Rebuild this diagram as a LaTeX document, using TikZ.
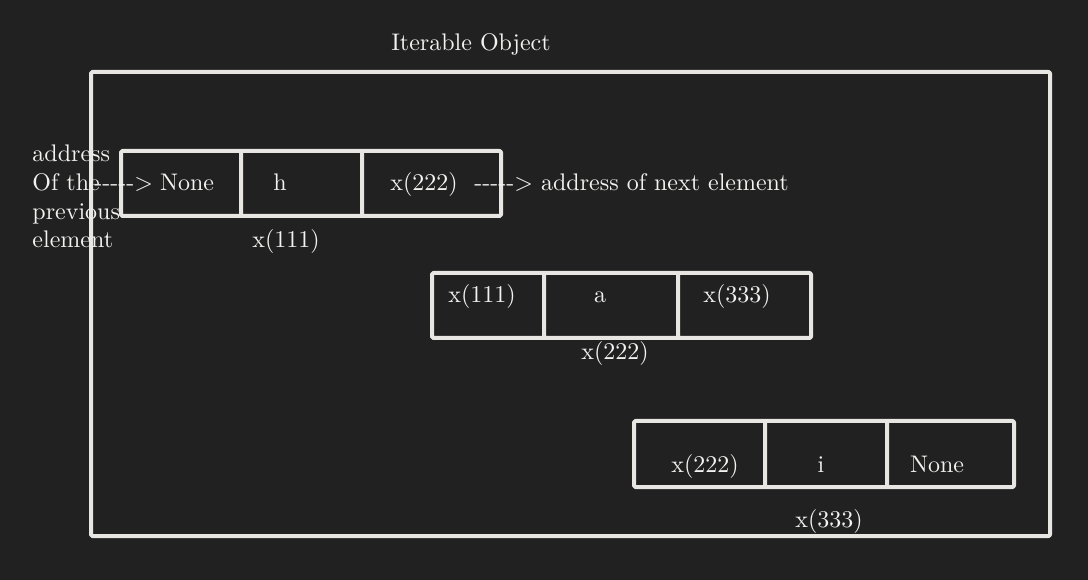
\documentclass[tikz,border=0pt]{standalone}
\usepackage{fontspec}
\usepackage{tikz}

\definecolor{bgdark}{RGB}{33,33,33}
\definecolor{chalk}{RGB}{232,230,227}
\definecolor{inkwhite}{RGB}{242,242,240}

\begin{document}
\begin{tikzpicture}[x=0.75pt,y=0.75pt,yscale=-1,xscale=1,
    cellbox/.style={draw=chalk,line width=3,rounded corners=1,line join=round},
    lbl/.style={text=inkwhite,inner sep=0,anchor=base,scale=1.8,font=\fontsize{10}{12}\selectfont}]
%Background
\fill[bgdark] (0,0) rectangle (1088,580);
%Shape: Rectangle [id:outer]
\draw[cellbox] (91,72) rectangle (1050,536);
\node[lbl] (title) at (471,51) {Iterable Object};

%Shape: Rectangle [id:nodeh]
\draw[cellbox] (121,151) rectangle (501,216) (241,151) -- (241,216) (362,151) -- (362,216);
\node[lbl,anchor=base west] (addrA) at (32,162) {address};
\node[lbl,anchor=base west] (addrB) at (32,191) {Of the};
\node[lbl,anchor=base west] (addrC) at (32,220) {previous};
\node[lbl,anchor=base west] (addrD) at (32,248) {element};
\node[lbl,anchor=base west] (prevarrow) at (94,191) {-{}-{}-{}-{}-{}>};
\node[lbl] (hprev) at (187,191) {None};
\node[lbl] (hval) at (280,191) {h};
\node[lbl] (hnext) at (424,191) {x(222)};
\node[lbl,anchor=base west] (nextarrow) at (474,191) {-{}-{}-{}-{}-{}> address of next element};
\node[lbl] (haddr) at (286,248) {x(111)};

%Shape: Rectangle [id:nodea]
\draw[cellbox] (432,273) rectangle (811,338) (544,273) -- (544,338) (678,273) -- (678,338);
\node[lbl] (aprev) at (482,303) {x(111)};
\node[lbl] (aval) at (600,303) {a};
\node[lbl] (anext) at (737,303) {x(333)};
\node[lbl] (aaddr) at (615,360) {x(222)};

%Shape: Rectangle [id:nodei]
\draw[cellbox] (634,421) rectangle (1014,487) (765,421) -- (765,487) (887,421) -- (887,487);
\node[lbl] (iprev) at (705,472) {x(222)};
\node[lbl] (ival) at (821,472) {i};
\node[lbl] (inext) at (937,472) {None};
\node[lbl] (iaddr) at (829,527) {x(333)};
\end{tikzpicture}
\end{document}
